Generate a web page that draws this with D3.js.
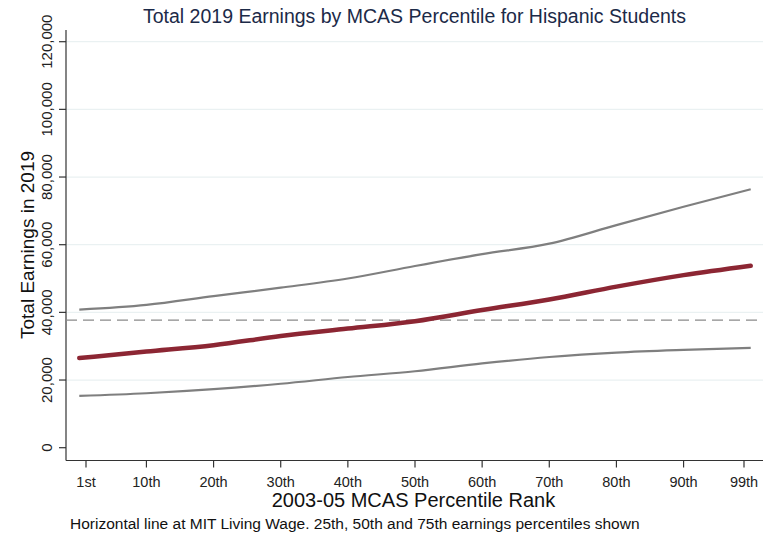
<!DOCTYPE html>
<html><head><meta charset="utf-8">
<script src="https://cdn.jsdelivr.net/npm/d3@7"></script>
<style>body{margin:0;background:#fff}svg{display:block;font-family:"Liberation Sans",Arial,sans-serif}</style>
</head><body><div id="c"></div>
<script>
const percentiles = [0,10,20,30,40,50,60,70,80,90,100];
const p75 = [40800,42200,44800,47300,50000,53700,57200,60300,65800,71200,76400];
const p50 = [26500,28400,30300,33000,35200,37400,40700,43800,47600,51000,53800];
const p25 = [15300,16100,17300,18900,20900,22600,24900,26800,28100,28900,29500];
const livingWage = 37700;
const xTickVals = [1,10,20,30,40,50,60,70,80,90,99];
const xTickLabels = ["1st","10th","20th","30th","40th","50th","60th","70th","80th","90th","99th"];
const yTickVals = [0,20000,40000,60000,80000,100000,120000];

(function(){
const W=778,H=539;
const svg=d3.select("#c").append("svg").attr("width",W).attr("height",H);
const x=d3.scaleLinear().domain([1,99]).range([86,744]);
const y=d3.scaleLinear().domain([0,120000]).range([447.7,41.7]);
const pL=66,pR=763,pT=30,pB=460.5;

svg.append("g").selectAll("line").data(yTickVals.filter(d=>d>0)).join("line")
  .attr("x1",pL).attr("x2",pR).attr("y1",d=>y(d)).attr("y2",d=>y(d))
  .attr("stroke","#eaf1f2").attr("stroke-width",1.2);

svg.append("line").attr("x1",pL).attr("x2",pL).attr("y1",pT).attr("y2",pB).attr("stroke","#333").attr("stroke-width",1.2);
svg.append("line").attr("x1",pL).attr("x2",pR).attr("y1",pB).attr("y2",pB).attr("stroke","#333").attr("stroke-width",1.2);

const yt=svg.append("g").selectAll("g").data(yTickVals).join("g");
yt.append("line").attr("x1",pL-7).attr("x2",pL).attr("y1",d=>y(d)).attr("y2",d=>y(d)).attr("stroke","#333").attr("stroke-width",1.2);
yt.append("text").attr("transform",d=>`translate(52,${y(d)}) rotate(-90)`).attr("text-anchor","middle")
  .attr("font-size",15).attr("fill","#222").text(d=>d3.format(",")(d));

const xt=svg.append("g").selectAll("g").data(xTickVals).join("g");
xt.append("line").attr("x1",d=>x(d)).attr("x2",d=>x(d)).attr("y1",pB).attr("y2",pB+7).attr("stroke","#333").attr("stroke-width",1.2);
xt.append("text").attr("x",d=>x(d)).attr("y",487).attr("text-anchor","middle").attr("font-size",14.5).attr("fill","#222")
  .text((d,i)=>xTickLabels[i]);

svg.append("line").attr("x1",pL).attr("x2",pR).attr("y1",y(livingWage)).attr("y2",y(livingWage))
  .attr("stroke","#8a8a8a").attr("stroke-width",1.4).attr("stroke-dasharray","11,6");

const line=d3.line().x((d,i)=>x(percentiles[i])).y(d=>y(d)).curve(d3.curveMonotoneX);
svg.append("path").attr("d",line(p75)).attr("fill","none").attr("stroke","#7f7f7f").attr("stroke-width",2.2);
svg.append("path").attr("d",line(p25)).attr("fill","none").attr("stroke","#7f7f7f").attr("stroke-width",2.2);
svg.append("path").attr("d",line(p50)).attr("fill","none").attr("stroke","#8c2633").attr("stroke-width",4.5).attr("stroke-linecap","round");

svg.append("text").attr("x",(pL+pR)/2).attr("y",23).attr("text-anchor","middle").attr("font-size",19.5).attr("fill","#1c2a48")
  .text("Total 2019 Earnings by MCAS Percentile for Hispanic Students");
svg.append("text").attr("transform",`translate(34,245) rotate(-90)`).attr("text-anchor","middle").attr("font-size",19).attr("fill","#111")
  .text("Total Earnings in 2019");
svg.append("text").attr("x",(pL+pR)/2-1).attr("y",507).attr("text-anchor","middle").attr("font-size",20).attr("fill","#111")
  .text("2003-05 MCAS Percentile Rank");
svg.append("text").attr("x",70).attr("y",529).attr("font-size",15.5).attr("fill","#111")
  .text("Horizontal line at MIT Living Wage. 25th, 50th and 75th earnings percentiles shown");
})();
</script></body></html>
